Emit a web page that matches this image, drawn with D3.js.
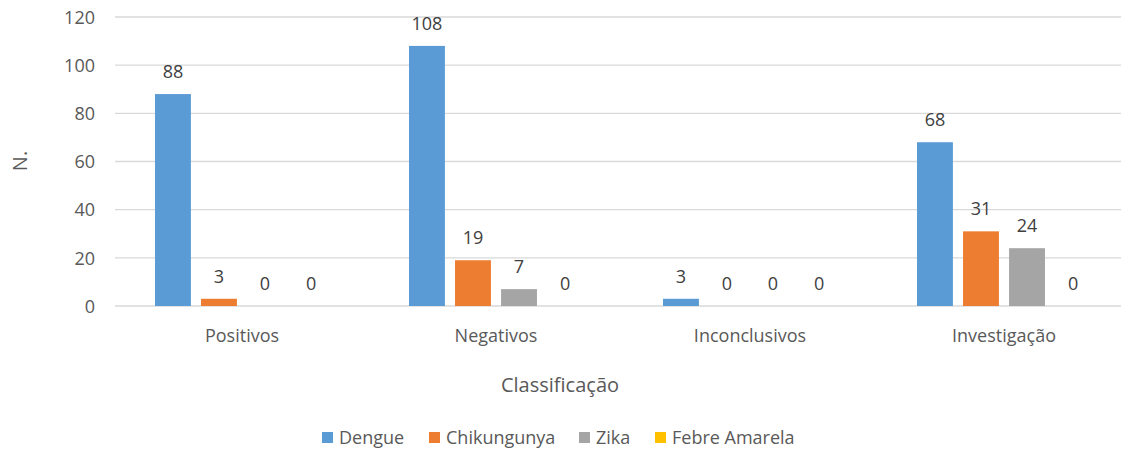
<!DOCTYPE html>
<meta charset="utf-8">
<style>
    body { margin: 0; background: #fff; }
    text { font-family: "Open Sans", "Liberation Sans", sans-serif; }
    .grid line { stroke: #d9d9d9; stroke-width: 1.3px; }
    .tick text { fill: #595959; font-size: 18px; }
    .lbl { fill: #404040; font-size: 18px; }
</style>
<svg width="1121" height="450"></svg>
<script src="https://cdnjs.cloudflare.com/ajax/libs/d3/7.8.5/d3.min.js"></script>
<script>
    var categories = ["Positivos", "Negativos", "Inconclusivos", "Investigação"];
    var seriesNames = ["Dengue", "Chikungunya", "Zika", "Febre Amarela"];
    var dengue = [88, 108, 3, 68];
    var chikungunya = [3, 19, 0, 31];
    var zika = [0, 7, 0, 24];
    var febreAmarela = [0, 0, 0, 0];
    var colors = ["#5b9bd5", "#ed7d31", "#a5a5a5", "#ffc000"];
    var yTicks = [0, 20, 40, 60, 80, 100, 120];

    var allSeries = [dengue, chikungunya, zika, febreAmarela];

    var svg = d3.select("svg");
    var plotLeft = 115, plotRight = 1131, plotTop = 17, plotBottom = 306;

    var x = d3.scaleBand().domain(categories).range([plotLeft, plotRight]);
    var inner = d3.scaleBand().domain(seriesNames).range([40, x.bandwidth() - 40]).paddingInner(0.22);
    var y = d3.scaleLinear().domain([0, 120]).range([plotBottom, plotTop]);

    // gridlines
    var grid = svg.append("g").attr("class", "grid");
    grid.selectAll("line").data(yTicks).enter().append("line")
            .attr("x1", plotLeft).attr("x2", 1121)
            .attr("y1", function (d) { return y(d); })
            .attr("y2", function (d) { return y(d); });

    // y axis labels
    var yAxis = svg.append("g").attr("transform", "translate(" + (plotLeft - 20) + ",0)")
            .call(d3.axisLeft(y).tickValues(yTicks).tickSize(0).tickPadding(0));
    yAxis.select(".domain").remove();
    yAxis.selectAll("text").attr("dy", "0.35em");

    // x axis labels
    var xAxis = svg.append("g").attr("transform", "translate(0," + plotBottom + ")")
            .call(d3.axisBottom(x).tickSize(0).tickPadding(23));
    xAxis.select(".domain").remove();

    // bars
    var rows = [];
    categories.forEach(function (c, i) {
        seriesNames.forEach(function (s, j) {
            rows.push({cat: c, series: s, value: allSeries[j][i], color: colors[j]});
        });
    });

    svg.append("g").selectAll("rect").data(rows).enter().append("rect")
            .attr("x", function (d) { return x(d.cat) + inner(d.series); })
            .attr("width", inner.bandwidth())
            .attr("y", function (d) { return y(d.value); })
            .attr("height", function (d) { return plotBottom - y(d.value); })
            .attr("fill", function (d) { return d.color; });

    svg.append("g").selectAll("text").data(rows).enter().append("text")
            .attr("class", "lbl")
            .attr("text-anchor", "middle")
            .attr("x", function (d) { return x(d.cat) + inner(d.series) + inner.bandwidth() / 2; })
            .attr("y", function (d) { return y(d.value) - 16; })
            .text(function (d) { return d.value; });

    // axis titles
    svg.append("text")
            .attr("transform", "translate(27,161) rotate(-90)")
            .attr("text-anchor", "middle")
            .style("font-size", "20px").style("fill", "#595959")
            .text("N.");
    svg.append("text")
            .attr("x", 560).attr("y", 392)
            .attr("text-anchor", "middle")
            .style("font-size", "20px").style("fill", "#595959")
            .text("Classificação");

    // legend
    var legendX = [322, 429, 579, 655];
    var legend = svg.append("g").selectAll("g").data(seriesNames).enter().append("g")
            .attr("transform", function (d, i) { return "translate(" + legendX[i] + ",432)"; });
    legend.append("rect").attr("width", 11).attr("height", 11)
            .attr("fill", function (d, i) { return colors[i]; });
    legend.append("text").attr("x", 17).attr("y", 12)
            .style("font-size", "18px").style("fill", "#595959")
            .text(function (d) { return d; });
</script>
